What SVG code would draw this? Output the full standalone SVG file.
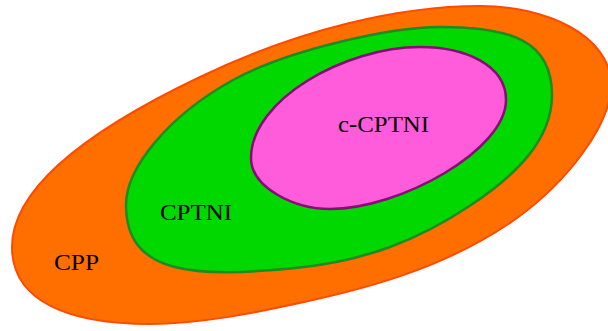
<svg xmlns="http://www.w3.org/2000/svg" width="608" height="331" viewBox="0 0 608 331">
<style>
.lbl{font-family:"Liberation Serif","DejaVu Serif",serif;font-size:24px;fill:#000}
.cpp{fill:#ff6f00;stroke:#ff4a00;stroke-width:2}
.cptni{fill:#00d800;stroke:#1f8a1f;stroke-width:2.5}
.ccptni{fill:#ff5cdc;stroke:#8a0a78;stroke-width:2.5}
</style>
<rect width="608" height="331" fill="#fff"/>
<g id="CPP">
<path class="cpp" d="M12,247 C12,194 72,138 200,77 C300,29 400,6 480,6 C545,6 611,35 611,85 C611,125 567,182 517,218 C447,268 364,289 304,302 C254,313 200,324 150,324 C70,324 12,302 12,247 Z"/>
<text class="lbl" x="54" y="270" textLength="45" lengthAdjust="spacingAndGlyphs">CPP</text>
</g>
<g id="CPTNI">
<path class="cptni" d="M126,205 C126,168 168,116 233,80 C288,50 390,27 440,27 C510,27 552,40 552,95 C552,140 516,175 471,205 C416,242 364,260 304,267 C194,279 126,275 126,205 Z"/>
<text class="lbl" x="160" y="220" textLength="72" lengthAdjust="spacingAndGlyphs">CPTNI</text>
</g>
<g id="c-CPTNI">
<path class="ccptni" d="M251,158 C251,100 345,47 420,47 C465,47 506,65 506,100 C506,150 400,209 330,209 C295,209 251,188 251,158 Z"/>
<text class="lbl" x="338" y="132" textLength="91" lengthAdjust="spacingAndGlyphs">c-CPTNI</text>
</g>
<g id="connectors"/>
</svg>
